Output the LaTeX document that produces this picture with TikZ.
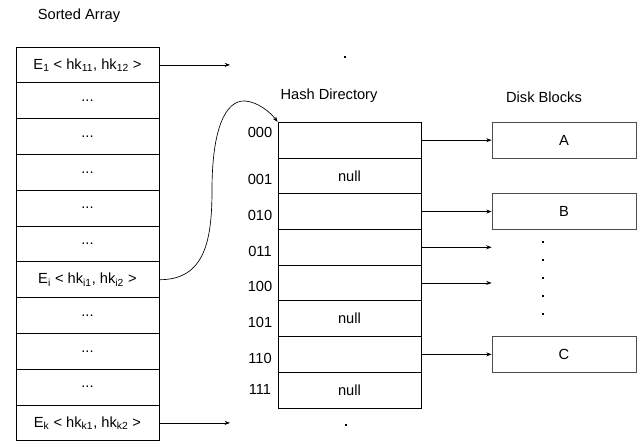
\documentclass[tikz,border=0pt]{standalone}
\usepackage{fontspec}
\setmainfont{Liberation Sans}
\usetikzlibrary{arrows.meta,positioning}
\newcommand{\elide}{...}

\begin{document}
\begin{tikzpicture}[x=0.75pt,y=-0.75pt,
  font=\fontsize{11}{13}\selectfont,
  cell/.style={draw,minimum width=107.25pt,minimum height=26.85pt,inner sep=0pt,line width=0.6pt},
  blk/.style={draw=black!70,minimum width=108pt,minimum height=27pt,inner sep=0pt,line width=0.6pt},
  ptr/.style={-{Stealth[length=4pt,width=3pt]},line width=0.5pt},
  dot/.style={fill,minimum size=1.6pt,inner sep=0pt}]
  \useasboundingbox (0,0) rectangle (637,442);

  % Sorted array
  \node (title) at (79,16) {Sorted Array};
  \foreach \txt [count=\i] in {{E\textsubscript{1} < hk\textsubscript{11}, hk\textsubscript{12} >},\elide,\elide,\elide,\elide,\elide,
      {E\textsubscript{i} < hk\textsubscript{i1}, hk\textsubscript{i2} >},\elide,\elide,\elide,
      {E\textsubscript{k} < hk\textsubscript{k1}, hk\textsubscript{k2} >}}
    \node[cell] (a\i) at (87.5,{47+35.8*(\i-0.5)}) {\txt};

  % Hash directory
  \node (hd) at (329,96) {Hash Directory};
  \foreach \txt [count=\i from 0] in {{},null,{},{},{},null,{},null}
    \node[cell] (d\i) at (349.5,{122.3+35.7*(\i+0.5)}) {\txt};
  \foreach \bits/\dy [count=\i from 0] in {000/-8,001/4,010/4,011/4,100/4,101/4,110/4,111/-1}
    \node (b\bits) at (260,{122.3+35.7*(\i+0.5)+\dy}) {\bits};

  % Disk blocks
  \node (db) at (544,97) {Disk Blocks};
  \coordinate (dkx) at (564,0);
  \node[blk] (A) at (d0 -| dkx) {A};
  \node[blk] (B) at (d2 -| dkx) {B};
  \node[blk] (C) at (d6 -| dkx) {C};
  \foreach \y in {242,260,...,314}
    \node[dot] at (543,\y) {};

  % Pointers
  \coordinate (ax) at (230,0);
  \coordinate (e1) at (a1 -| ax);
  \coordinate (ek) at (a11 -| ax);
  \draw[ptr] (a1.east) -- (e1);
  \draw[ptr] (a11.east) -- (ek);
  \node[dot] (top) at (345,57) {};
  \node[dot] (bot) at (346,425) {};
  \draw[ptr] (a7.east) .. controls (205,280) and (212,240) .. (212,190)
    .. controls (212,130) and (225,100) .. (245,101)
    .. controls (258,102) and (270,112) .. (d0.north west);

  \draw[ptr] (d0.east) -- (A.west);
  \draw[ptr] (d2.east) -- (B.west);
  \draw[ptr] (d6.east) -- (C.west);
  \coordinate (e3) at (d3 -| A.west);
  \coordinate (e4) at (d4 -| A.west);
  \draw[ptr] (d3.east) -- (e3);
  \draw[ptr] (d4.east) -- (e4);
\end{tikzpicture}
\end{document}
